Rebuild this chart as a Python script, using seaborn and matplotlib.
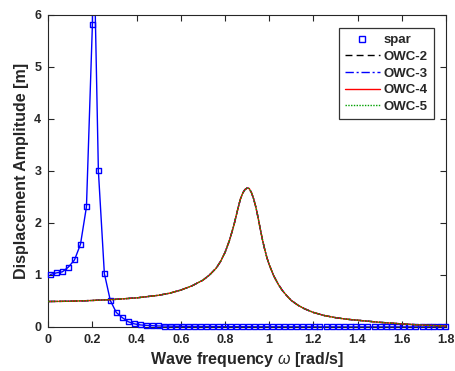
import numpy as np
import pandas as pd
import matplotlib
matplotlib.use("Agg")
import matplotlib.pyplot as plt
from matplotlib.lines import Line2D
import seaborn as sns

# ---- data ----
spar_w = [0.010, 0.037, 0.064, 0.091, 0.119, 0.146, 0.173, 0.200, 0.227, 0.254,
          0.281, 0.308, 0.335, 0.363, 0.390, 0.417, 0.444, 0.471, 0.498, 0.525,
          0.552, 0.580, 0.607, 0.634, 0.661, 0.688, 0.715, 0.742, 0.769, 0.797,
          0.824, 0.851, 0.878, 0.905, 0.932, 0.959, 0.986, 1.013, 1.041, 1.068,
          1.095, 1.122, 1.149, 1.176, 1.203, 1.230, 1.258, 1.285, 1.312, 1.339,
          1.366, 1.393, 1.420, 1.447, 1.475, 1.502, 1.529, 1.556, 1.583, 1.610,
          1.637, 1.664, 1.692, 1.719, 1.746, 1.773, 1.800]
spar_amp = [1.01, 1.04, 1.06, 1.15, 1.29, 1.59, 2.31, 5.82, 3.00, 1.03,
            0.51, 0.28, 0.18, 0.10, 0.06, 0.04, 0.03, 0.025, 0.02, 0.017,
            0.015, 0.013, 0.012, 0.011, 0.010, 0.009, 0.008, 0.008, 0.007, 0.007,
            0.006, 0.006, 0.006, 0.005, 0.005, 0.005, 0.005, 0.004, 0.004, 0.004,
            0.004, 0.004, 0.003, 0.003, 0.003, 0.003, 0.003, 0.003, 0.003, 0.002,
            0.002, 0.002, 0.002, 0.002, 0.002, 0.002, 0.002, 0.002, 0.002, 0.002,
            0.002, 0.002, 0.002, 0.002, 0.002, 0.002, 0.002]

# fine spar response line (passes above the axis top near resonance)
spar_line_w = [0.010, 0.037, 0.064, 0.091, 0.119, 0.146, 0.173, 0.200, 0.206, 0.213,
               0.227, 0.254, 0.281, 0.308, 0.335, 0.363, 0.390, 0.417, 0.444, 0.471,
               0.498, 0.600, 0.800, 1.000, 1.200, 1.400, 1.600, 1.800]
spar_line_amp = [1.01, 1.04, 1.06, 1.15, 1.29, 1.59, 2.31, 5.82, 9.00, 6.00,
                 3.00, 1.03, 0.51, 0.28, 0.18, 0.10, 0.06, 0.04, 0.03, 0.025,
                 0.02, 0.012, 0.006, 0.004, 0.003, 0.002, 0.002, 0.002]

owc_w = [0.00, 0.10, 0.20, 0.30, 0.40, 0.50, 0.55, 0.60, 0.65, 0.70,
         0.73, 0.76, 0.78, 0.80, 0.82, 0.84, 0.86, 0.87, 0.88, 0.89,
         0.90, 0.905, 0.91, 0.92, 0.93, 0.94, 0.95, 0.96, 0.97, 0.98,
         0.99, 1.00, 1.02, 1.04, 1.06, 1.08, 1.10, 1.13, 1.16, 1.20,
         1.25, 1.30, 1.35, 1.40, 1.50, 1.60, 1.70, 1.80]
owc_amp = [0.49, 0.495, 0.51, 0.53, 0.56, 0.61, 0.65, 0.71, 0.79, 0.90,
           1.00, 1.13, 1.26, 1.43, 1.66, 1.95, 2.30, 2.46, 2.57, 2.64,
           2.67, 2.67, 2.66, 2.58, 2.46, 2.30, 2.10, 1.88, 1.67, 1.49,
           1.33, 1.20, 0.99, 0.83, 0.70, 0.60, 0.51, 0.42, 0.35, 0.28,
           0.22, 0.18, 0.15, 0.13, 0.09, 0.06, 0.035, 0.02]
owc2_amp = owc_amp
owc3_amp = owc_amp
owc4_amp = owc_amp
owc5_amp = owc_amp

labels = ["spar", "OWC-2", "OWC-3", "OWC-4", "OWC-5"]
x_ticks = [0, 0.2, 0.4, 0.6, 0.8, 1.0, 1.2, 1.4, 1.6, 1.8]
x_tick_labels = ["0", "0.2", "0.4", "0.6", "0.8", "1", "1.2", "1.4", "1.6", "1.8"]
y_ticks = [0, 1, 2, 3, 4, 5, 6]

# ---- style ----
sns.set_style("ticks")
plt.rcParams["font.family"] = ["Liberation Sans", "DejaVu Sans"]
plt.rcParams["mathtext.fontset"] = "custom"
plt.rcParams["mathtext.it"] = "Liberation Sans:italic"
plt.rcParams["mathtext.rm"] = "Liberation Sans"

fig = plt.figure(figsize=(4.55, 3.71), dpi=100)
ax = fig.add_axes([0.106, 0.1186, 0.874, 0.8414])

blue = "#0000ff"
sns.lineplot(x=spar_line_w, y=spar_line_amp, color=blue, linewidth=1.0, ax=ax,
             legend=False, estimator=None)
sc = sns.scatterplot(x=spar_w, y=spar_amp, marker="s", s=13, facecolor="none",
                     edgecolor=blue, linewidth=1.0, ax=ax, legend=False, zorder=3)
for coll in ax.collections:
    coll.set_clip_on(False)

styles = [("OWC-2", owc2_amp, "black", (0, (5, 3))),
          ("OWC-3", owc3_amp, blue, (0, (6, 2, 1.5, 2))),
          ("OWC-4", owc4_amp, "#ff0000", "-"),
          ("OWC-5", owc5_amp, "#00a000", (0, (1, 1)))]
for name, amp, col, ls in styles:
    sns.lineplot(x=owc_w, y=amp, color=col, linestyle=ls, linewidth=1.0, ax=ax,
                 legend=False, estimator=None, zorder=4)

ax.set_xlim(0, 1.8)
ax.set_ylim(0, 6)
ax.set_xticks(x_ticks)
ax.set_xticklabels(x_tick_labels)
ax.set_yticks(y_ticks)
ax.tick_params(direction="in", top=True, right=True, length=4, width=0.8,
               labelsize=9, colors="#262626", pad=5)
for t in ax.get_xticklabels() + ax.get_yticklabels():
    t.set_fontweight("bold")
for s in ax.spines.values():
    s.set_visible(True)
    s.set_linewidth(0.8)
    s.set_color("#262626")

ax.set_xlabel(r"Wave frequency $\omega$ [rad/s]", fontsize=11.5, fontweight="bold",
              color="#262626", labelpad=3)
ax.set_ylabel("Displacement Amplitude [m]", fontsize=11.5, fontweight="bold",
              color="#262626", labelpad=4)

handles = [Line2D([], [], linestyle="none", marker="s", markersize=4,
                  markerfacecolor="none", markeredgecolor=blue, markeredgewidth=1.0)]
for name, amp, col, ls in styles:
    handles.append(Line2D([], [], color=col, linestyle=ls, linewidth=1.0))
leg = ax.legend(handles, labels, loc="upper right", bbox_to_anchor=(0.969, 0.957),
                borderaxespad=0, fancybox=False, framealpha=1, edgecolor="#333333",
                prop={"weight": "bold", "size": 9.5}, handlelength=2.6,
                handletextpad=0.3, labelspacing=0.33, borderpad=0.45)
leg.get_frame().set_linewidth(0.9)
leg.set_zorder(10)

fig.savefig("out.png", dpi=100)
